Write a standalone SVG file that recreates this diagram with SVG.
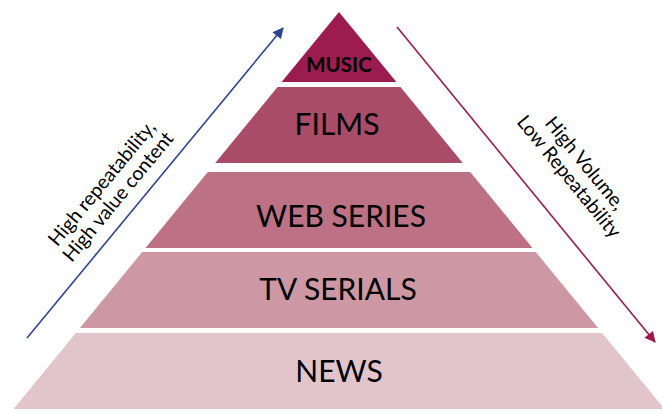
<svg xmlns="http://www.w3.org/2000/svg" width="662" height="414" viewBox="0 0 662 414">
<style>
.lbl{font-family:Lato,"Open Sans","Liberation Sans",sans-serif;fill:#000;text-anchor:middle}
.big{font-size:30px}
.side{font-family:Lato,"Open Sans","Liberation Sans",sans-serif;font-size:19.5px;fill:#000;text-anchor:middle}
</style>
<defs>
<marker id="ab" viewBox="0 0 10 10" refX="9" refY="5" markerWidth="12" markerHeight="11" markerUnits="userSpaceOnUse" orient="auto"><path d="M0,0 L10,5 L0,10 z" fill="#2E4593"/></marker>
<marker id="ar" viewBox="0 0 10 10" refX="9" refY="5" markerWidth="12" markerHeight="11" markerUnits="userSpaceOnUse" orient="auto"><path d="M0,0 L10,5 L0,10 z" fill="#9B1B4F"/></marker>
</defs>
<rect width="662" height="414" fill="#fff"/>
<g id="music"><polygon points="339,12 396.4,82 281.6,82" fill="#9D1C50"/><text class="lbl" x="339" y="72" font-size="20.5" font-weight="bold">MUSIC</text></g>
<g id="films"><polygon points="277.5,87 400.5,87 462.8,163 215.2,163" fill="#A94C68"/><text class="lbl big" x="337" y="135">FILMS</text></g>
<g id="web-series"><polygon points="207.8,172 470.2,172 532.5,248 145.5,248" fill="#BC7284"/><text class="lbl big" x="341" y="227">WEB SERIES</text></g>
<g id="tv-serials"><polygon points="142.2,252 535.8,252 598.1,328 79.9,328" fill="#CD98A4"/><text class="lbl big" x="338" y="300">TV SERIALS</text></g>
<g id="news"><polygon points="75.8,333 602.2,333 664.5,409 13.5,409" fill="#E2C5CB"/><text class="lbl big" x="339" y="382">NEWS</text></g>
<g id="connectors">
<line x1="27" y1="338" x2="283" y2="28" stroke="#2E4593" stroke-width="1.6" marker-end="url(#ab)"/>
<line x1="397" y1="27" x2="655" y2="342" stroke="#9B1B4F" stroke-width="1.6" marker-end="url(#ar)"/>
</g>
<g id="left-label"><text class="side" transform="translate(110,190) rotate(-50.4)"><tspan x="0" y="-4">High repeatability,</tspan><tspan x="0" y="17">High value content</tspan></text></g>
<g id="right-label"><text class="side" transform="translate(577,170) rotate(50.7)"><tspan x="0" y="-4">High Volume,</tspan><tspan x="0" y="17">Low Repeatability</tspan></text></g>
</svg>
